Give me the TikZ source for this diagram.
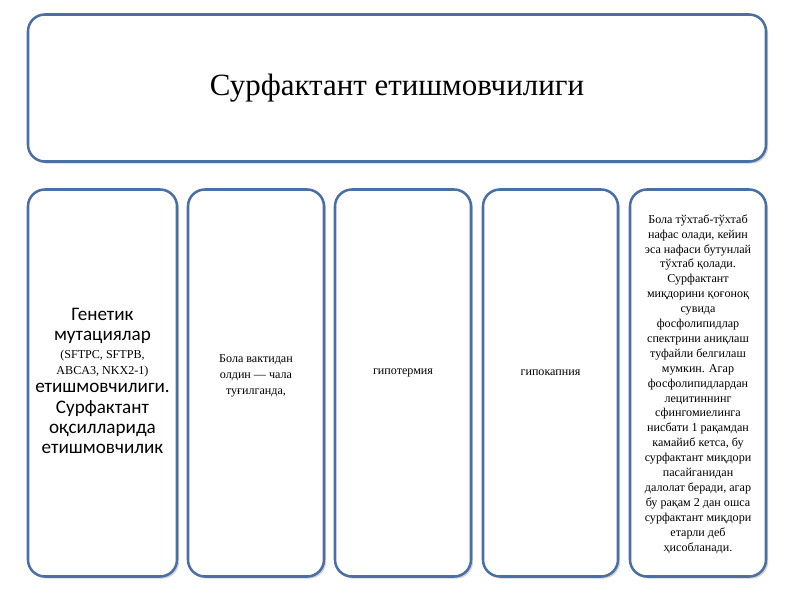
\documentclass[tikz,border=0pt]{standalone}
\usepackage{fontspec}
\setmainfont{Liberation Serif}
\newfontfamily\calib{Carlito}
\usetikzlibrary{shadows}
\definecolor{frameblue}{HTML}{4A6FA5}

\begin{document}
\begin{tikzpicture}[x=0.025cm,y=-0.025cm]
    % Define styles
    \tikzset{
        panel/.style={rectangle, rounded corners=12pt, draw=frameblue, line width=1.8pt,
            fill=white, drop shadow={opacity=0.35, shadow xshift=1.5pt, shadow yshift=-1.5pt},
            align=center, inner sep=4pt},
        column/.style={panel, minimum width=#1*0.025cm, minimum height=387*0.025cm},
        small/.style={font=\fontsize{8.6}{11.2}\selectfont, align=center}
    }
    \useasboundingbox (0,0) rectangle (800,600);

    % Title
    \node[panel, minimum width=738*0.025cm, minimum height=147*0.025cm,
        font=\fontsize{22}{26}\selectfont] (title) at (397,88) {Сурфактант етишмовчилиги};

    % Columns
    \node[column=149] (genetic) at (102.5,383) {};
    \node[column=136] (preterm) at (256,383) {};
    \node[column=136] (hypothermia) at (403,383) {};
    \node[column=135] (hypocapnia) at (550.5,383) {};
    \node[column=136] (breathing) at (698,383) {};

    % Texts
    \node[align=center, font=\calib\fontsize{13.6}{14.4}\selectfont]
        (genetic_text) at (102.5,381) {Генетик\\ мутациялар\\[-2pt]
        {\rmfamily\fontsize{8.6}{10}\selectfont (SFTPC, SFTPB,}\\[-3pt]
        {\rmfamily\fontsize{8.6}{10}\selectfont ABCA3, NKX2-1)}\\[-1pt]
        етишмовчилиги.\\ Сурфактант\\ оқсилларида\\ етишмовчилик};
    \node[small] (preterm_text) at (256,376)
        {Бола вактидан\\ олдин — чала\\ туғилганда,};
    \node[small] (hypothermia_text) at (403,373) {гипотермия};
    \node[small] (hypocapnia_text) at (550.5,373) {гипокапния};
    \node[small, font=\fontsize{8.6}{10.6}\selectfont] (breathing_text) at (698,384)
        {Бола тўхтаб-тўхтаб\\ нафас олади, кейин\\ эса нафаси бутунлай\\ тўхтаб қолади.\\
        Сурфактант\\ миқдорини қоғоноқ\\ сувида\\ фосфолипидлар\\ спектрини аниқлаш\\
        туфайли белгилаш\\ мумкин. Агар\\ фосфолипидлардан\\ лецитиннинг\\ сфингомиелинга\\
        нисбати 1 рақамдан\\ камайиб кетса, бу\\ сурфактант миқдори\\ пасайганидан\\
        далолат беради, агар\\ бу рақам 2 дан ошса\\ сурфактант миқдори\\ етарли деб\\ ҳисобланади.};
\end{tikzpicture}
\end{document}
